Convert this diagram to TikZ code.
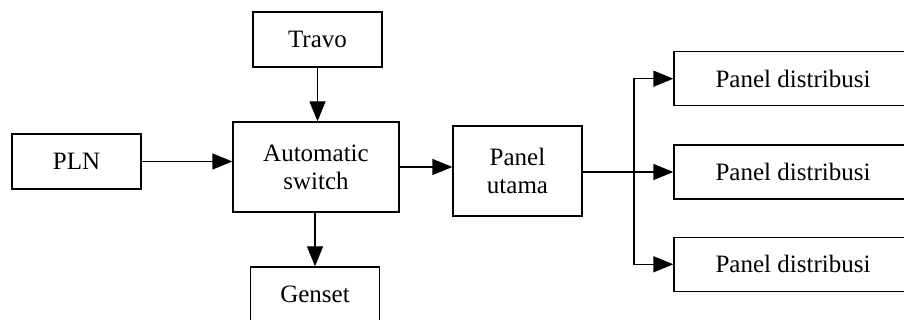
\documentclass[tikz,border=0pt]{standalone}
\usepackage{fontspec}
\setmainfont{Liberation Serif}
\usetikzlibrary{positioning, arrows.meta}

\tikzset{
  blok/.style={draw, line width=1.3pt, align=center, inner sep=0pt,
    minimum width=129pt, minimum height=55pt,
    font=\fontsize{25}{28}\selectfont},
  panah/.style={-{Triangle[length=20pt, width=16pt]}, line width=1.3pt}
}

\begin{document}
\begin{tikzpicture}[x=1pt, y=1pt]
    \useasboundingbox (0,0) rectangle (904,320);
    \clip (0,0) rectangle (904,320);
    % blok utama
    \node[blok] (pln) at (76.5,158.5) {PLN};
    \node[blok] (travo) at (317.5,280.5) {Travo};
    \node[blok, minimum width=166pt, minimum height=90pt] (ats) at (316,153) {Automatic\\switch};
    \node[blok] (genset) at (315,25.5) {Genset};
    \node[blok, minimum height=90pt] (utama) at (517.5,149) {Panel\\utama};
    % panel distribusi
    \node[blok, minimum width=238pt, minimum height=54pt] (dist2) at (793,148) {Panel distribusi};
    \node[blok, minimum width=238pt, minimum height=54pt, above=38pt of dist2] (dist1) {Panel distribusi};
    \node[blok, minimum width=238pt, minimum height=54pt, below=37pt of dist2] (dist3) {Panel distribusi};
    \coordinate (cabang) at (634,148);

    \draw[panah] (pln.east) -- (pln.east -| ats.west);
    \draw[panah] (travo) -- (travo |- ats.north);
    \draw[panah] (ats.south -| genset) -- (genset.north);
    \draw[panah] (ats.east) -- (ats.east -| utama.west);
    \draw[panah] (utama.east |- dist2) -- (dist2.west);
    \draw[panah] (cabang) |- (dist1.west);
    \draw[panah] (cabang) |- (dist3.west);
\end{tikzpicture}
\end{document}
